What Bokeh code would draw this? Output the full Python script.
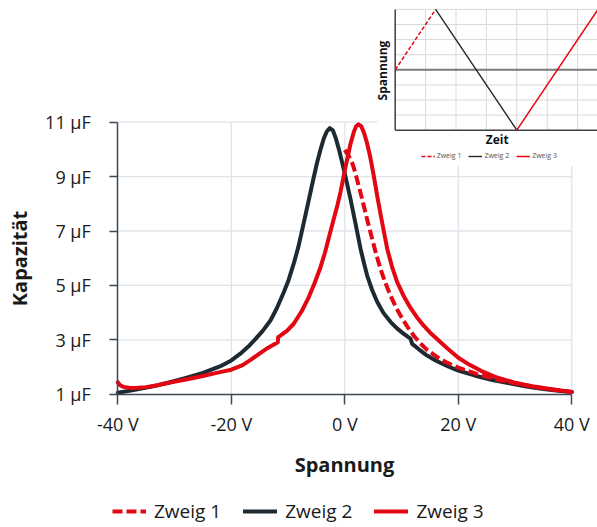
import math
from bokeh.plotting import figure
from bokeh.models import Range1d, FixedTicker, Legend, LegendItem, Label
from bokeh.embed import file_html
from bokeh.resources import INLINE

# ---------------- data ----------------
series_names = ["Zweig 1", "Zweig 2", "Zweig 3"]

# Zweig 1 (0 V -> +40 V), dashed red
zweig1_v = [0, 0.8, 1.4, 1.9, 2.4, 2.8, 3.4, 3.94, 4.83, 5.5, 6.29, 7.1, 8.05, 9.0, 10.1,
            11.1, 12.16, 13.3, 14.5, 16.3, 18, 20, 23.3, 26.5, 30, 33, 36.5, 40]
zweig1_c = [9.98, 9.72, 9.45, 9.1, 8.7, 8.38, 7.88, 7.42, 6.71, 6.17, 5.61, 5.12, 4.63, 4.2, 3.79,
            3.46, 3.15, 2.87, 2.63, 2.36, 2.16, 1.98, 1.74, 1.55, 1.4, 1.28, 1.17, 1.08]

# Zweig 2 (+40 V -> -40 V), dark
zweig2_v = [-40, -37, -34, -31, -28, -25, -22, -20, -18.4, -17, -16, -14.5, -13.1, -12, -10.75,
            -9.9, -9.0, -8.2, -7.5, -6.6, -5.5, -4.9, -4.3, -3.7, -3.2, -2.65, -2.1, -1.6,
            -1.06, -0.5, 0.12, 1.0, 1.88, 2.77, 3.4, 3.94, 4.8, 5.7, 6.8, 8.05, 9.2, 10.4, 11.58,
            11.87, 13, 14.5, 16, 18, 20, 23, 26, 29, 32, 35, 38, 40]
zweig2_c = [1.05, 1.16, 1.28, 1.43, 1.6, 1.78, 2.02, 2.24, 2.49, 2.75, 2.97, 3.32, 3.71, 4.15, 4.75,
            5.2, 5.8, 6.4, 7.05, 7.9, 8.95, 9.5, 9.98, 10.4, 10.65, 10.78, 10.7, 10.42,
            10.02, 9.55, 9.0, 8.18, 7.28, 6.35, 5.8, 5.36, 4.84, 4.4, 3.99, 3.66, 3.42, 3.22, 3.04,
            2.85, 2.66, 2.42, 2.24, 2.04, 1.87, 1.68, 1.52, 1.40, 1.28, 1.19, 1.12, 1.08]

# Zweig 3 (-40 V -> +40 V), solid red
zweig3_v = [-40, -39.6, -39, -38, -37, -35, -33, -31, -28, -25, -22, -20, -18, -16.6, -14.85,
            -13.5, -11.8, -11.75, -11.3, -10.2, -9.0, -7.6, -6.34, -5.3, -4.28, -3.5, -2.82,
            -1.94, -1.3, -0.76, 0.12, 1.0, 1.6, 2.0, 2.4, 2.9, 3.4, 3.9, 4.5, 5.1, 5.7, 6.45,
            7.47, 8.3, 9.23, 10.4, 11.58, 12.7, 13.9, 15, 16.3, 18, 20, 22, 24, 26.5, 29.8,
            33, 36.5, 40]
zweig3_c = [1.44, 1.33, 1.27, 1.24, 1.23, 1.26, 1.33, 1.42, 1.54, 1.67, 1.81, 1.90, 2.07, 2.26, 2.52,
            2.71, 2.91, 3.10, 3.16, 3.33, 3.59, 4.05, 4.57, 5.1, 5.67, 6.2, 6.75,
            7.45, 7.95, 8.43, 9.35, 10.2, 10.65, 10.85, 10.92, 10.85, 10.6, 10.25, 9.7, 9.04, 8.3, 7.45,
            6.35, 5.7, 5.12, 4.6, 4.17, 3.83, 3.52, 3.27, 3.02, 2.70, 2.34, 2.08, 1.86, 1.64, 1.43,
            1.29, 1.18, 1.08]

x_ticks = [-40, -20, 0, 20, 40]
x_tick_labels = ["-40 V", "-20 V", "0 V", "20 V", "40 V"]
y_ticks = [1, 3, 5, 7, 9, 11]
y_tick_labels = ["1 µF", "3 µF", "5 µF", "7 µF", "9 µF", "11 µF"]
x_grid = [-20, 0, 20, 40]
y_grid = [3, 5, 7, 9, 11]

# inset (Spannung über Zeit)
inset1_t = [0, 1.33]
inset1_v = [0, 40]
inset2_t = [1.33, 4.0]
inset2_v = [40, -40]
inset3_t = [4.0, 6.67]
inset3_v = [-40, 40]
inset_t_grid = [1, 2, 3, 4, 5, 6]
inset_v_grid = [-30, -20, -10, 10, 20, 30, 40]
inset_t_span = [0, 6.67]
inset_v_span = [-40, 40]

# ---------------- layout constants (page pixels; frame = whole figure) ----------------
W, H = 597, 527
X_AXIS_LEFT, Y_AXIS_BOTTOM = 117.3, 393.7   # where -40 V and 1 µF sit
PX_PER_V, PX_PER_UF = 5.675, 27.2

INSET_T0_X, PX_PER_T = 394.7, 30.4
INSET_V0_Y, PX_PER_VI = 69.3, 1.51

def it(page_x):
    return (page_x - INSET_T0_X) / PX_PER_T

def iv(page_y):
    return (INSET_V0_Y - page_y) / PX_PER_VI

RED = "#e30613"
DARK = "#1e2a32"
GRID = "#dfe4ea"
AXIS = "#3f4850"
TXT = "#1a1a1a"
FONT = "Open Sans"
DASH = "10 4"

x_start = x_ticks[0] - X_AXIS_LEFT / PX_PER_V
y_start = y_ticks[0] - (H - Y_AXIS_BOTTOM) / PX_PER_UF
p = figure(width=W, height=H, output_backend="svg", toolbar_location=None,
           x_range=Range1d(x_start, x_start + W / PX_PER_V),
           y_range=Range1d(y_start, y_start + H / PX_PER_UF),
           min_border=0, min_border_left=0, min_border_right=0,
           min_border_top=0, min_border_bottom=0)
p.outline_line_color = None
p.grid.visible = False
p.background_fill_color = "white"
p.border_fill_color = "white"

p.extra_x_ranges = {"t": Range1d(it(0), it(W))}
p.extra_y_ranges = {"v": Range1d(iv(H), iv(0))}

# axes (drawn at fixed data positions inside the frame)
for ax in (p.xaxis[0], p.yaxis[0]):
    ax.axis_line_color = AXIS
    ax.axis_line_width = 1.5
    ax.major_tick_line_color = AXIS
    ax.major_tick_line_width = 1.5
    ax.major_tick_in = 0
    ax.minor_tick_line_color = None
    ax.major_label_text_font = FONT
    ax.major_label_text_font_size = "18px"
    ax.major_label_text_color = TXT
    ax.axis_label_text_font = FONT
    ax.axis_label_text_font_size = "20px"
    ax.axis_label_text_font_style = "bold"
    ax.axis_label_text_color = TXT

xa = p.xaxis[0]
xa.fixed_location = y_ticks[0]
xa.bounds = (x_ticks[0], x_ticks[-1])
xa.ticker = FixedTicker(ticks=x_ticks)
xa.major_label_overrides = {t: l for t, l in zip(x_ticks, x_tick_labels)}
xa.major_tick_out = 10
xa.major_label_standoff = 8
xa.axis_label = "Spannung"
xa.axis_label_standoff = 11

ya = p.yaxis[0]
ya.fixed_location = x_ticks[0]
ya.bounds = (y_ticks[0], y_ticks[-1])
ya.ticker = FixedTicker(ticks=y_ticks)
ya.major_label_overrides = {t: l for t, l in zip(y_ticks, y_tick_labels)}
ya.major_tick_out = 8
ya.major_label_standoff = 19
ya.axis_label = "Kapazität"
ya.axis_label_standoff = 9

# main grid
p.segment(x0=x_grid, y0=[y_ticks[0]] * len(x_grid), x1=x_grid, y1=[y_ticks[-1]] * len(x_grid),
          line_color=GRID, line_width=1.3)
p.segment(x0=[x_ticks[0]] * len(y_grid), y0=y_grid, x1=[x_ticks[-1]] * len(y_grid), y1=y_grid,
          line_color=GRID, line_width=1.3)

# main curves
r2 = p.line(zweig2_v, zweig2_c, line_color=DARK, line_width=4, line_join="round", line_cap="round")
r3 = p.line(zweig3_v, zweig3_c, line_color=RED, line_width=4, line_join="round", line_cap="round")
r1 = p.line(zweig1_v, zweig1_c, line_color=RED, line_width=4, line_dash=DASH, line_join="round")

# ---------------- inset ----------------
p.quad(left=[it(377)], right=[it(620)], top=[iv(-20)], bottom=[iv(165)],
       fill_color="white", line_color=None, x_range_name="t", y_range_name="v")
IGRID = "#d9d9d9"
p.segment(x0=inset_t_grid, y0=[inset_v_span[0]] * len(inset_t_grid),
          x1=inset_t_grid, y1=[inset_v_span[1]] * len(inset_t_grid),
          line_color=IGRID, line_width=1, x_range_name="t", y_range_name="v")
p.segment(x0=[inset_t_span[0]] * len(inset_v_grid), y0=inset_v_grid,
          x1=[inset_t_span[1]] * len(inset_v_grid), y1=inset_v_grid,
          line_color=IGRID, line_width=1, x_range_name="t", y_range_name="v")
p.segment(x0=[inset_t_span[0]], y0=[0], x1=[inset_t_span[1]], y1=[0],
          line_color="#7a7a7a", line_width=2, x_range_name="t", y_range_name="v")
p.segment(x0=[inset_t_span[0]], y0=[inset_v_span[0]], x1=[inset_t_span[0]], y1=[inset_v_span[1]],
          line_color="#404040", line_width=1.5, x_range_name="t", y_range_name="v")
p.segment(x0=[inset_t_span[0]], y0=[inset_v_span[0]], x1=[inset_t_span[1]], y1=[inset_v_span[0]],
          line_color="#404040", line_width=1.5, x_range_name="t", y_range_name="v")
i1 = p.line(inset1_t, inset1_v, line_color=RED, line_width=1.5, line_dash="4 2",
            x_range_name="t", y_range_name="v")
i2 = p.line(inset2_t, inset2_v, line_color="#262626", line_width=1.4,
            x_range_name="t", y_range_name="v")
i3 = p.line(inset3_t, inset3_v, line_color=RED, line_width=1.5,
            x_range_name="t", y_range_name="v")

p.add_layout(Label(x=it(381.7), y=iv(70), x_range_name="t", y_range_name="v",
                   text="Spannung", angle=math.pi / 2, text_align="center", text_baseline="middle",
                   text_font=FONT, text_font_size="12px", text_font_style="bold",
                   text_color="#111111"))
p.add_layout(Label(x=it(496.7), y=iv(138.5), x_range_name="t", y_range_name="v",
                   text="Zeit", text_align="center", text_baseline="middle",
                   text_font=FONT, text_font_size="12px", text_font_style="bold",
                   text_color="#111111"))

inset_legend = Legend(items=[LegendItem(label=n, renderers=[r]) for n, r in zip(series_names, [i1, i2, i3])],
                      orientation="horizontal", location=(420.7, H - 160),
                      padding=0, margin=0, spacing=7, label_standoff=2, glyph_width=14, glyph_height=8,
                      label_height=8, label_text_font=FONT, label_text_font_size="7px",
                      label_text_color="#555555", background_fill_alpha=0, border_line_color=None)
p.add_layout(inset_legend)

# ---------------- main legend ----------------
legend = Legend(items=[LegendItem(label=n, renderers=[r]) for n, r in zip(series_names, [r1, r2, r3])],
                orientation="horizontal", location=(112, H - 524),
                padding=0, margin=0, spacing=22, label_standoff=8, glyph_width=34, glyph_height=18,
                label_height=18, label_text_font=FONT, label_text_font_size="19px",
                label_text_color=TXT, background_fill_alpha=0, border_line_color=None)
p.add_layout(legend)

open("out.html", "w").write(file_html(p, INLINE))
